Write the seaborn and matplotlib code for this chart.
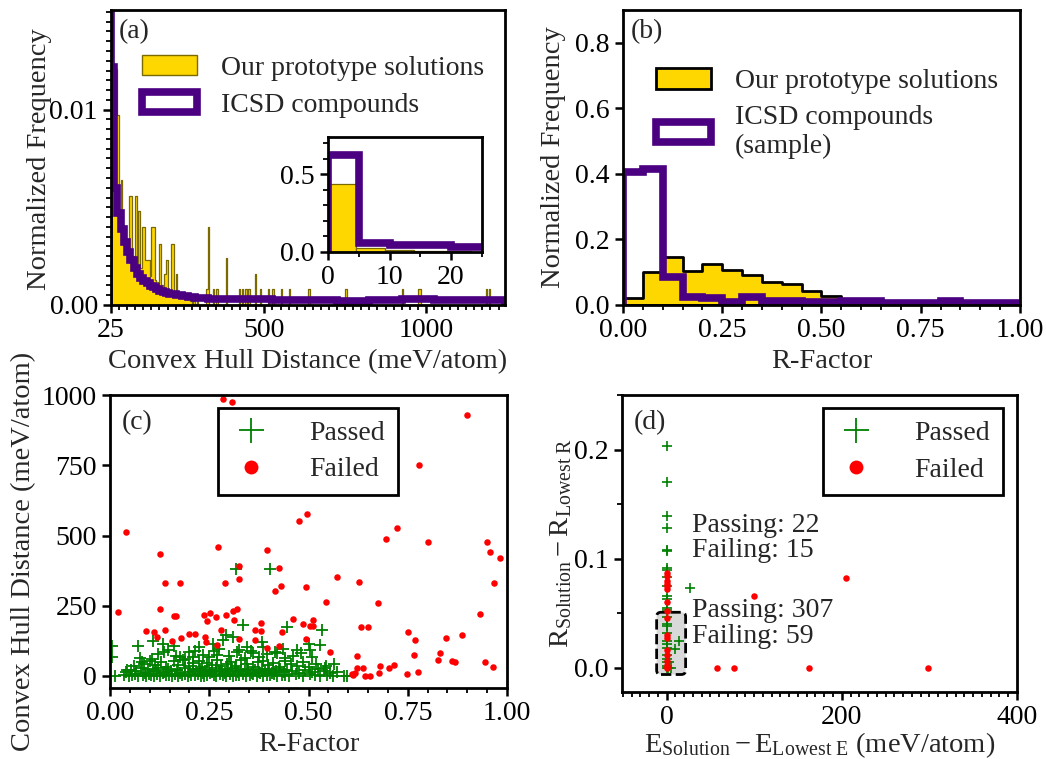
import numpy as np
import pandas as pd
import matplotlib
matplotlib.use('Agg')
import matplotlib.pyplot as plt
import matplotlib.patches as mpatches
from matplotlib.lines import Line2D
from matplotlib.ticker import MultipleLocator, FormatStrFormatter
import seaborn as sns

# ---------------- panel (a): convex hull distance (meV/atom) ----------------
# our prototype solutions, 5 meV/atom bins (left edge, normalized frequency)
hull_yellow_left = [25, 30, 35, 40, 45, 50, 55, 60, 65, 70, 75, 80, 85, 90, 95, 100, 105, 110, 115, 120,
                    125, 130, 135, 140, 145, 150, 155, 160, 165, 170, 175, 180, 185, 190, 195, 200, 205, 210,
                    215, 220, 225, 230, 235, 240, 245, 250, 255, 260, 265, 270, 280, 290,
                    320, 325, 340, 350, 380, 420, 430, 440, 450, 470, 485, 510, 525, 550, 575, 635, 750,
                    925, 975, 980, 1185, 1195]
hull_yellow_height = [0.0121, 0.0121, 0.0121, 0.0121, 0.0097, 0.0045, 0.0064, 0.0036, 0.0033, 0.0030,
                      0.0028, 0.0056, 0.0056, 0.0025, 0.0023, 0.0056, 0.0021, 0.0048, 0.0019, 0.0040,
                      0.0040, 0.0023, 0.0023, 0.0023, 0.0015, 0.0040, 0.0040, 0.0013, 0.0012, 0.0011,
                      0.0031, 0.0010, 0.0009, 0.0016, 0.0023, 0.0008, 0.0007, 0.0031, 0.0031, 0.0006,
                      0.0016, 0.0005, 0.0005, 0.0004, 0.0006, 0.0004, 0.0003, 0.0003, 0.0003, 0.0002,
                      0.0002, 0.0002,
                      0.0008, 0.0040, 0.0008, 0.0008, 0.0024, 0.0008, 0.0008, 0.0008, 0.0008, 0.0016,
                      0.0008, 0.0008, 0.0008, 0.0008, 0.0008, 0.0008, 0.0008, 0.0008, 0.0008, 0.0008,
                      0.0008, 0.0008]
# ICSD compounds (step outline)
hull_purple_edges = [20, 25, 35, 45, 55, 65, 75, 85, 95, 105, 115, 125, 135, 145, 155, 165, 175, 185, 195,
                     205, 215, 225, 235, 245, 255, 265, 275, 285, 295, 305, 315, 325,
                     425, 525, 625, 725, 825, 925, 1025, 1125, 1245]
hull_purple_height = [0.030, 0.0122, 0.0060, 0.0047, 0.0039, 0.0032, 0.0027, 0.0023, 0.0019, 0.0016,
                      0.0014, 0.00125, 0.0011, 0.00098, 0.0009, 0.0008, 0.00074, 0.00068, 0.00063, 0.00058,
                      0.00055, 0.00052, 0.00049, 0.00046, 0.00044, 0.00042, 0.0004, 0.00038, 0.00036,
                      0.00035, 0.00034,
                      0.00032, 0.0003, 0.00027, 0.00024, 0.00022, 0.00024, 0.0003, 0.00026, 0.00023]
# inset, 0-25 meV/atom
inset_yellow_edges = [0, 4.6, 9.3, 14, 18.6, 23.3, 28]
inset_yellow_height = [0.44, 0.023, 0.012, 0.005, 0.004, 0.003]
inset_purple_edges = [0, 5, 10, 15, 20, 25, 30]
inset_purple_height = [0.625, 0.056, 0.048, 0.042, 0.034, 0.03]

# ---------------- panel (b): R-factor histograms, 0.05 bins ----------------
rfac_yellow = [0.020, 0.100, 0.145, 0.104, 0.126, 0.107, 0.090, 0.069, 0.063, 0.043,
               0.026, 0.013, 0.017, 0.004, 0.004, 0.007, 0.008, 0.004, 0.004, 0.004]
rfac_purple = [0.405, 0.415, 0.085, 0.023, 0.020, 0.010, 0.025, 0.013, 0.013, 0.010,
               0.008, 0.012, 0.012, 0.005, 0.005, 0.005, 0.013, 0.005, 0.005, 0.005]

# ---------------- panel (c): R-factor vs convex hull distance ----------------
passed_c = [
    (0.035, 2), (0.048, 0), (0.055, 5), (0.062, 8), (0.071, 1), (0.083, 4), (0.091, 0), (0.098, 7), (0.104, 3), (0.112, 1),
    (0.118, 6), (0.126, 0), (0.133, 9), (0.141, 2), (0.149, 4), (0.157, 0), (0.163, 7), (0.172, 1), (0.181, 3), (0.188, 8),
    (0.196, 0), (0.204, 5), (0.213, 2), (0.221, 6), (0.229, 1), (0.236, 0), (0.244, 4), (0.252, 9), (0.261, 2), (0.268, 0),
    (0.277, 6), (0.285, 3), (0.293, 1), (0.301, 8), (0.309, 0), (0.318, 5), (0.326, 2), (0.335, 7), (0.343, 0), (0.352, 3),
    (0.361, 6), (0.369, 1), (0.378, 9), (0.386, 0), (0.395, 4), (0.404, 2), (0.413, 7), (0.421, 0), (0.432, 3), (0.441, 5),
    (0.452, 1), (0.468, 6), (0.487, 0), (0.503, 8), (0.516, 2), (0.528, 0), (0.546, 4), (0.561, 1), (0.598, 0), (0.012, 0),
    (0.040, 14), (0.052, 22), (0.066, 18), (0.078, 27), (0.087, 12), (0.095, 25), (0.108, 16), (0.115, 20), (0.122, 29), (0.137, 13),
    (0.145, 24), (0.153, 17), (0.168, 21), (0.176, 11), (0.190, 28), (0.200, 15), (0.208, 23), (0.217, 19), (0.226, 26), (0.234, 12),
    (0.240, 18), (0.249, 22), (0.258, 14), (0.266, 27), (0.274, 20), (0.283, 16), (0.290, 11), (0.298, 24), (0.306, 19), (0.315, 28),
    (0.323, 13), (0.331, 21), (0.340, 17), (0.348, 25), (0.357, 12), (0.365, 20), (0.374, 15), (0.383, 23), (0.391, 18), (0.400, 26),
    (0.409, 11), (0.418, 19), (0.427, 24), (0.437, 14), (0.446, 22), (0.458, 17), (0.475, 12), (0.490, 20), (0.510, 15), (0.523, 26),
    (0.540, 18), (0.555, 10), (0.572, 13),
    (0.060, 35), (0.085, 42), (0.100, 55), (0.113, 38), (0.128, 48), (0.140, 33), (0.160, 52), (0.172, 40), (0.185, 58), (0.198, 36),
    (0.210, 45), (0.223, 53), (0.232, 31), (0.245, 47), (0.256, 39), (0.270, 56), (0.280, 34), (0.295, 44), (0.305, 51), (0.318, 37),
    (0.330, 58), (0.345, 42), (0.360, 33), (0.372, 49), (0.385, 55), (0.397, 38), (0.410, 46), (0.425, 32), (0.440, 53), (0.455, 41),
    (0.470, 36), (0.485, 48), (0.500, 31), (0.520, 44), (0.545, 36),
    (0.075, 65), (0.120, 78), (0.145, 92), (0.165, 70), (0.190, 62), (0.215, 88), (0.235, 75), (0.250, 66), (0.275, 95), (0.300, 72),
    (0.320, 84), (0.340, 63), (0.355, 90), (0.375, 68), (0.395, 78), (0.415, 86), (0.440, 64), (0.460, 72), (0.480, 82), (0.510, 68),
    (0.006, 107), (0.006, 69), (0.070, 107), (0.109, 125), (0.133, 115), (0.162, 107), (0.135, 85), (0.200, 85), (0.225, 103), (0.260, 115),
    (0.263, 89), (0.285, 127), (0.291, 147), (0.311, 139), (0.317, 382), (0.336, 180), (0.344, 103), (0.382, 121), (0.386, 103), (0.403, 382),
    (0.435, 97), (0.447, 174), (0.470, 91), (0.500, 112), (0.504, 91), (0.534, 165), (0.529, 109), (0.565, 44), (0.542, 30), (0.590, 0),
    (0.326, 91), (0.420, 80), (0.361, 82), (0.269, 74), (0.210, 68), (0.176, 68), (0.105, 62), (0.080, 50), (0.042, 20),
]
failed_c = [
    (0.284, 985), (0.308, 976), (0.898, 930), (0.779, 752), (0.039, 512), (0.273, 460), (0.125, 433), (0.395, 450),
    (0.495, 578), (0.477, 550), (0.695, 488), (0.722, 527), (0.801, 476), (0.949, 477), (0.956, 440), (0.982, 421),
    (0.967, 331), (0.138, 332), (0.176, 332), (0.290, 331), (0.325, 390), (0.326, 344), (0.425, 384), (0.430, 321),
    (0.415, 301), (0.493, 316), (0.573, 351), (0.626, 335), (0.020, 228), (0.126, 240), (0.160, 215), (0.166, 212),
    (0.237, 217), (0.252, 225), (0.244, 197), (0.268, 209), (0.291, 218), (0.310, 230), (0.313, 198), (0.319, 240),
    (0.462, 204), (0.487, 186), (0.512, 198), (0.512, 177), (0.504, 177), (0.543, 263), (0.674, 260), (0.932, 219),
    (0.380, 187), (0.090, 160), (0.111, 155), (0.139, 163), (0.118, 138), (0.157, 125), (0.179, 135), (0.200, 151),
    (0.214, 148), (0.240, 139), (0.243, 121), (0.270, 109), (0.279, 165), (0.325, 130), (0.365, 163), (0.380, 159),
    (0.364, 127), (0.396, 101), (0.425, 107), (0.434, 157), (0.493, 132), (0.631, 174), (0.649, 174), (0.554, 85),
    (0.751, 157), (0.768, 127), (0.766, 74), (0.846, 136), (0.886, 145), (0.825, 58), (0.832, 82), (0.862, 53),
    (0.868, 49), (0.945, 50), (0.964, 32), (0.621, 72), (0.623, 30), (0.638, 30), (0.642, 0), (0.655, 0),
    (0.680, 37), (0.678, 12), (0.703, 30), (0.715, 38), (0.749, 8), (0.775, 13), (0.609, 8), (0.613, 2), (0.617, 11),
]

# ---------------- panel (d): energy difference vs R difference ----------------
passed_d = [
    (0, 0.203), (0, 0.170), (0, 0.139), (0, 0.128), (0, 0.108), (0, 0.107), (0, 0.092), (0, 0.090), (0, 0.083),
    (0, 0.075), (0, 0.066), (0, 0.063), (0, 0.055), (0, 0.053), (0, 0.047), (0, 0.040), (0, 0.038), (0, 0.032),
    (0, 0.025), (0, 0.022), (0, 0.018), (0, 0.012), (0, 0.008), (0, 0.005), (0, 0.002), (0, 0.0), (2, 0.0),
    (27, 0.073), (14, 0.025), (10, 0.017), (5, 0.0), (3, 0.005),
]
failed_d = [
    (0, 0.087), (0, 0.084), (0, 0.080), (0, 0.077), (0, 0.075), (0, 0.072), (0, 0.060), (0, 0.052), (0, 0.046),
    (0, 0.030), (0, 0.027), (0, 0.016), (0, 0.012), (0, 0.006), (0, 0.003), (0, 0.001), (0, 0.0),
    (100, 0.066), (205, 0.082), (57, 0.0), (77, 0.0), (163, 0.0), (298, 0.0),
]
counts_upper = "Passing: 22\nFailing: 15"
counts_lower = "Passing: 307\nFailing: 59"

GOLD = '#FFD700'
OLIVE = '#7a6a00'
INDIGO = '#4B0082'
FS = 20
LFS = 20.5

sns.set_theme(style='ticks')
plt.rcParams['font.family'] = ['Liberation Serif', 'DejaVu Serif']
plt.rcParams['mathtext.fontset'] = 'custom'
plt.rcParams['mathtext.rm'] = 'Liberation Serif'
plt.rcParams['mathtext.it'] = 'Liberation Serif:italic'
plt.rcParams['axes.linewidth'] = 2
plt.rcParams['axes.edgecolor'] = 'black'
plt.rcParams['xtick.major.size'] = 6
plt.rcParams['ytick.major.size'] = 6
plt.rcParams['xtick.minor.size'] = 3.5
plt.rcParams['ytick.minor.size'] = 3.5
plt.rcParams['xtick.major.width'] = 1.8
plt.rcParams['ytick.major.width'] = 1.8
plt.rcParams['xtick.minor.width'] = 1.3
plt.rcParams['ytick.minor.width'] = 1.3
plt.rcParams['xtick.color'] = 'black'
plt.rcParams['ytick.color'] = 'black'


def style_axis(ax):
    ax.tick_params(labelsize=FS, colors='black')
    for s in ax.spines.values():
        s.set_linewidth(2)
        s.set_color('black')
        s.set_zorder(5)


fig = plt.figure(figsize=(10.46, 7.59), dpi=100)
ax_a = fig.add_axes([0.1061, 0.5982, 0.3767, 0.3887])
ax_b = fig.add_axes([0.5956, 0.5982, 0.3795, 0.3887])
ax_c = fig.add_axes([0.1052, 0.0935, 0.3795, 0.3860])
ax_d = fig.add_axes([0.5946, 0.0883, 0.3776, 0.3913])

# ---- (a) ----
hull_centers = [v + 2.5 for v in hull_yellow_left]
sns.histplot(x=hull_centers, weights=hull_yellow_height, binwidth=5, binrange=(25, 1245),
             element='step', fill=True, color=GOLD, edgecolor=OLIVE, linewidth=0.9, alpha=1, ax=ax_a)
ax_a.stairs(hull_purple_height, hull_purple_edges, baseline=0, color=INDIGO, linewidth=5.5)
ax_a.set_xlim(25, 1245)
ax_a.set_ylim(0, 0.0151)
ax_a.set_xticks([25, 500, 1000])
ax_a.xaxis.set_minor_locator(MultipleLocator(25))
ax_a.yaxis.set_major_locator(MultipleLocator(0.01))
ax_a.yaxis.set_minor_locator(MultipleLocator(0.0005))
ax_a.yaxis.set_major_formatter(FormatStrFormatter('%.2f'))
ax_a.set_xlabel('Convex Hull Distance (meV/atom)', fontsize=LFS)
ax_a.set_ylabel('Normalized Frequency', fontsize=LFS)
ax_a.yaxis.set_label_coords(-0.15, 0.495)
style_axis(ax_a)
ax_a.text(0.02, 0.97, '(a)', transform=ax_a.transAxes, fontsize=FS, va='top', ha='left')
h_a = [mpatches.Patch(facecolor=GOLD, edgecolor=OLIVE, linewidth=1),
       mpatches.Patch(facecolor='white', edgecolor=INDIGO, linewidth=5.5)]
ax_a.legend(h_a, ['Our prototype solutions', 'ICSD compounds'], loc='upper left',
            bbox_to_anchor=(0.05, 0.885), frameon=False, fontsize=FS, handlelength=2.0,
            handleheight=0.75, handletextpad=0.85, labelspacing=0.4, borderaxespad=0)

ax_in = fig.add_axes([0.3136, 0.668, 0.147, 0.1515])
inset_centers = [(lo + hi) / 2 for lo, hi in zip(inset_yellow_edges[:-1], inset_yellow_edges[1:])]
sns.histplot(x=inset_centers, weights=inset_yellow_height, bins=inset_yellow_edges,
             element='bars', color=GOLD, edgecolor=OLIVE, linewidth=0.9, alpha=1, ax=ax_in)
ax_in.stairs(inset_purple_height, inset_purple_edges, baseline=0, color=INDIGO, linewidth=5.5)
ax_in.set_xlim(0, 25)
ax_in.set_ylim(0, 0.74)
ax_in.set_xticks([0, 10, 20])
ax_in.xaxis.set_minor_locator(MultipleLocator(5))
ax_in.set_yticks([0.0, 0.5])
ax_in.yaxis.set_minor_locator(MultipleLocator(0.1))
ax_in.yaxis.set_major_formatter(FormatStrFormatter('%.1f'))
ax_in.set_xlabel('')
ax_in.set_ylabel('')
style_axis(ax_in)

# ---- (b) ----
rfac_edges = [round(0.05 * i, 2) for i in range(21)]
rfac_centers = [e + 0.025 for e in rfac_edges[:-1]]
sns.histplot(x=rfac_centers, weights=rfac_yellow, bins=rfac_edges, element='step', fill=True,
             color=GOLD, edgecolor='black', linewidth=2, alpha=1, ax=ax_b)
ax_b.stairs(rfac_purple, rfac_edges, baseline=0, color=INDIGO, linewidth=5.5)
ax_b.set_xlim(0, 1)
ax_b.set_ylim(0, 0.9)
ax_b.xaxis.set_major_locator(MultipleLocator(0.25))
ax_b.xaxis.set_minor_locator(MultipleLocator(0.05))
ax_b.xaxis.set_major_formatter(FormatStrFormatter('%.2f'))
ax_b.yaxis.set_major_locator(MultipleLocator(0.2))
ax_b.yaxis.set_major_formatter(FormatStrFormatter('%.1f'))
ax_b.set_xlabel('R-Factor', fontsize=LFS)
ax_b.set_ylabel('Normalized Frequency', fontsize=LFS)
ax_b.yaxis.set_label_coords(-0.144, 0.5)
style_axis(ax_b)
ax_b.text(0.02, 0.97, '(b)', transform=ax_b.transAxes, fontsize=FS, va='top', ha='left')
h_b = [mpatches.Patch(facecolor=GOLD, edgecolor='black', linewidth=2),
       mpatches.Patch(facecolor='white', edgecolor=INDIGO, linewidth=5.5)]
ax_b.legend(h_b, ['Our prototype solutions', 'ICSD compounds\n(sample)'], loc='upper left',
            bbox_to_anchor=(0.055, 0.84), frameon=False, fontsize=FS, handlelength=2.0,
            handleheight=0.75, handletextpad=0.85, labelspacing=0.4, borderaxespad=0)

# ---- (c) ----
df_pc = pd.DataFrame(passed_c, columns=['rfac', 'hull'])
df_fc = pd.DataFrame(failed_c, columns=['rfac', 'hull'])
sns.scatterplot(data=df_pc, x='rfac', y='hull', marker='+', color='green', s=75, linewidth=1.3,
                legend=False, ax=ax_c, zorder=2)
sns.scatterplot(data=df_fc, x='rfac', y='hull', marker='o', color='red', s=22, linewidth=0,
                legend=False, ax=ax_c, zorder=3)
ax_c.set_xlim(0, 1)
ax_c.set_ylim(-43, 1000)
ax_c.xaxis.set_major_locator(MultipleLocator(0.25))
ax_c.xaxis.set_minor_locator(MultipleLocator(0.05))
ax_c.xaxis.set_major_formatter(FormatStrFormatter('%.2f'))
ax_c.yaxis.set_major_locator(MultipleLocator(250))
ax_c.set_xlabel('R-Factor', fontsize=LFS)
ax_c.set_ylabel('Convex Hull Distance (meV/atom)', fontsize=LFS)
ax_c.yaxis.set_label_coords(-0.185, 0.465)
style_axis(ax_c)
ax_c.text(0.03, 0.95, '(c)', transform=ax_c.transAxes, fontsize=FS, va='top', ha='left')


def scatter_legend(ax, x0):
    hs = [Line2D([], [], ls='', marker='+', color='green', markersize=18, markeredgewidth=1.3),
          Line2D([], [], ls='', marker='o', color='red', markersize=10, markeredgewidth=0)]
    leg = ax.legend(hs, ['Passed', 'Failed'], loc='upper left', bbox_to_anchor=(x0, 0.956),
                    frameon=True, fancybox=False, edgecolor='black', framealpha=1, fontsize=FS,
                    handlelength=1.5, handletextpad=1.35, borderpad=0.45, labelspacing=0.4,
                    borderaxespad=0)
    leg.get_frame().set_linewidth(2)


scatter_legend(ax_c, 0.272)

# ---- (d) ----
box = mpatches.FancyBboxPatch((-11.4, -0.006), 33.1, 0.057,
                              boxstyle='round,pad=0,rounding_size=5', mutation_aspect=0.0008,
                              facecolor='#d9d9d9', edgecolor='black', linestyle='--', linewidth=2,
                              zorder=1)
ax_d.add_patch(box)
df_pd = pd.DataFrame(passed_d, columns=['dE', 'dR'])
df_fd = pd.DataFrame(failed_d, columns=['dE', 'dR'])
sns.scatterplot(data=df_pd, x='dE', y='dR', marker='+', color='green', s=60, linewidth=1.2,
                legend=False, ax=ax_d, zorder=2)
sns.scatterplot(data=df_fd, x='dE', y='dR', marker='o', color='red', s=22, linewidth=0,
                legend=False, ax=ax_d, zorder=3)
ax_d.set_xlim(-51, 400)
ax_d.set_ylim(-0.022, 0.25)
ax_d.xaxis.set_major_locator(MultipleLocator(200))
ax_d.xaxis.set_minor_locator(MultipleLocator(10))
ax_d.yaxis.set_major_locator(MultipleLocator(0.1))
ax_d.yaxis.set_minor_locator(MultipleLocator(0.05))
ax_d.yaxis.set_major_formatter(FormatStrFormatter('%.1f'))
ax_d.set_xlabel(r'$\mathrm{E_{Solution} - E_{Lowest\ E}}$ (meV/atom)', fontsize=LFS, labelpad=0)
ax_d.set_ylabel(r'$\mathrm{R_{Solution} - R_{Lowest\ R}}$', fontsize=LFS)
ax_d.yaxis.set_label_coords(-0.122, 0.5)
style_axis(ax_d)
ax_d.text(0.03, 0.95, '(d)', transform=ax_d.transAxes, fontsize=FS, va='top', ha='left')
ax_d.text(29, 0.119, counts_upper, fontsize=FS, va='center', ha='left', linespacing=1.05)
ax_d.text(29, 0.041, counts_lower, fontsize=FS, va='center', ha='left', linespacing=1.05)
scatter_legend(ax_d, 0.509)

fig.savefig('out.png', dpi=100)
